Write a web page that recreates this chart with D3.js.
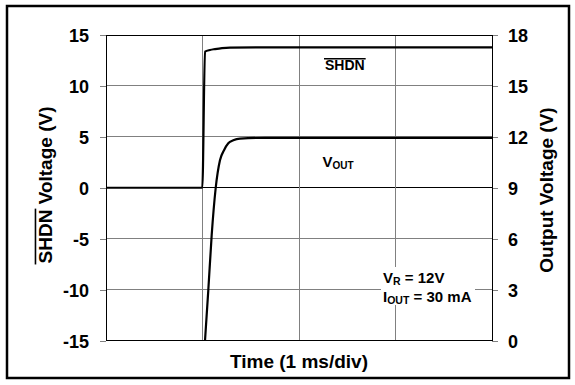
<!DOCTYPE html>
<html>
<head>
<meta charset="utf-8">
<script src="https://cdn.jsdelivr.net/npm/d3@7"></script>
<style>
  html, body { margin: 0; padding: 0; background: #fff; }
  svg { display: block; font-family: "Liberation Sans", Arial, sans-serif; }
</style>
</head>
<body>
<svg id="chart" width="575" height="385"></svg>
<script>
// Time axis (ms) and tick values
const timeDomain = [0, 4];
const timeGridMs = [1, 2, 3];
const shdnTicks = [-15, -10, -5, 0, 5, 10, 15];
const voutTicks = [0, 3, 6, 9, 12, 15, 18];

// SHDN pin waveform (left axis, V)
const shdnTimeMs = [0, 0.998, 1.026, 1.078, 1.130, 1.202, 1.285, 2.0, 3.0, 4.0];
const shdnVolts  = [0, 0,     13.36, 13.53, 13.62, 13.72, 13.77, 13.79, 13.79, 13.79];

// Output voltage waveform (right axis, V)
const voutTimeMs = [1.026, 1.060, 1.095, 1.137, 1.181, 1.223, 1.267, 1.319, 1.389, 1.648, 2.5, 4.0];
const voutVolts  = [0,     2.95,  6.19,  9.0,   10.62, 11.21, 11.62, 11.8,  11.9,  11.94, 11.94, 11.94];

const svg = d3.select("#chart");
const W = 575, H = 385;
const plot = { left: 106, right: 492, top: 35, bottom: 340.5 };
const FONT = "'Liberation Sans', Arial, sans-serif";

const x = d3.scaleLinear().domain(timeDomain).range([plot.left, plot.right]);
const yL = d3.scaleLinear().domain([-15, 15]).range([plot.bottom, plot.top]);
const yR = d3.scaleLinear().domain([0, 18]).range([plot.bottom, plot.top]);

svg.append("rect").attr("width", W).attr("height", H).attr("fill", "#fff");

// outer frame
svg.append("rect")
  .attr("x", 7).attr("y", 6).attr("width", 562).attr("height", 372)
  .attr("fill", "none").attr("stroke", "#000").attr("stroke-width", 2.5);

// grid
const grid = svg.append("g");
grid.selectAll("line.h").data(shdnTicks).join("line")
  .attr("x1", plot.left).attr("x2", plot.right)
  .attr("y1", d => yL(d)).attr("y2", d => yL(d))
  .attr("stroke", d => d === 0 ? "#000" : "#808080").attr("stroke-width", 1)
  .attr("shape-rendering", "crispEdges");
grid.selectAll("line.v").data(timeGridMs).join("line")
  .attr("x1", d => x(d)).attr("x2", d => x(d))
  .attr("y1", plot.top).attr("y2", plot.bottom)
  .attr("stroke", "#808080").attr("stroke-width", 1)
  .attr("shape-rendering", "crispEdges");

// axes
function styleAxis(g) {
  g.select(".domain").remove();
  g.selectAll(".tick line").attr("stroke", "#808080").attr("shape-rendering", "crispEdges");
  g.selectAll(".tick text")
    .attr("font-family", FONT).attr("font-size", 18).attr("font-weight", "bold")
    .attr("fill", "#000").attr("dy", "0.37em");
}
const plain = d => String(d);
svg.append("g").attr("transform", `translate(${plot.left},0)`)
  .call(d3.axisLeft(yL).tickValues(shdnTicks).tickSize(6).tickPadding(11).tickFormat(plain))
  .call(styleAxis);
svg.append("g").attr("transform", `translate(${plot.right},0)`)
  .call(d3.axisRight(yR).tickValues(voutTicks).tickSize(6).tickPadding(10).tickFormat(plain))
  .call(styleAxis);

// plot frame
svg.append("rect")
  .attr("x", plot.left).attr("y", plot.top)
  .attr("width", plot.right - plot.left).attr("height", plot.bottom - plot.top)
  .attr("fill", "none").attr("stroke", "#000").attr("stroke-width", 1)
  .attr("shape-rendering", "crispEdges");

// traces
const shdnLine = d3.line().x(d => x(d[0])).y(d => yL(d[1])).curve(d3.curveMonotoneX);
const voutLine = d3.line().x(d => x(d[0])).y(d => yR(d[1])).curve(d3.curveMonotoneX);
svg.append("path").datum(d3.zip(shdnTimeMs, shdnVolts))
  .attr("d", shdnLine).attr("fill", "none").attr("stroke", "#000")
  .attr("stroke-width", 2.2).attr("stroke-linejoin", "round");
svg.append("path").datum(d3.zip(voutTimeMs, voutVolts))
  .attr("d", voutLine).attr("fill", "none").attr("stroke", "#000")
  .attr("stroke-width", 2.2).attr("stroke-linejoin", "round");

// overline above the first n characters of a text node
function overline(textSel, n, gap, parent) {
  const node = textSel.node();
  const s = node.getStartPositionOfChar(0);
  const e = node.getEndPositionOfChar(n - 1);
  const fs = +textSel.attr("font-size");
  parent.append("line")
    .attr("x1", s.x - 1).attr("x2", e.x + 1)
    .attr("y1", s.y - fs * gap).attr("y2", s.y - fs * gap)
    .attr("stroke", "#000").attr("stroke-width", 1.6);
}

// axis titles
svg.append("text")
  .attr("x", (plot.left + plot.right) / 2).attr("y", 368)
  .attr("text-anchor", "middle").attr("font-family", FONT)
  .attr("font-size", 19).attr("font-weight", "bold")
  .text("Time (1 ms/div)");

const leftTitle = svg.append("g").attr("transform", "translate(52,185) rotate(-90)");
const lt = leftTitle.append("text")
  .attr("x", 0).attr("y", 0).attr("text-anchor", "middle")
  .attr("font-family", FONT).attr("font-size", 19).attr("font-weight", "bold")
  .text("SHDN Voltage (V)");
overline(lt, 4, 0.87, leftTitle);

svg.append("g").attr("transform", "translate(553,190) rotate(-90)")
  .append("text")
  .attr("text-anchor", "middle").attr("font-family", FONT)
  .attr("font-size", 19).attr("font-weight", "bold")
  .text("Output Voltage (V)");

// trace labels
const shdnLbl = svg.append("text")
  .attr("x", 325).attr("y", 70).attr("font-family", FONT)
  .attr("font-size", 14).attr("font-weight", "bold").text("SHDN");
overline(shdnLbl, 4, 0.8, svg);

const voutLbl = svg.append("text")
  .attr("x", 322.5).attr("y", 166.5).attr("font-family", FONT).attr("font-weight", "bold");
voutLbl.append("tspan").attr("font-size", 15).text("V");
voutLbl.append("tspan").attr("font-size", 10).attr("dy", 2).text("OUT");

// test conditions
const cond = svg.append("g");
cond.append("rect").attr("x", 381).attr("y", 267).attr("width", 94).attr("height", 38).attr("fill", "#fff");
const c1 = cond.append("text").attr("x", 383).attr("y", 283)
  .attr("font-family", FONT).attr("font-weight", "bold");
c1.append("tspan").attr("font-size", 15).text("V");
c1.append("tspan").attr("font-size", 10.5).attr("dy", 2).text("R");
c1.append("tspan").attr("font-size", 15).attr("dy", -2).text(" = 12V");
const c2 = cond.append("text").attr("x", 383).attr("y", 302)
  .attr("font-family", FONT).attr("font-weight", "bold");
c2.append("tspan").attr("font-size", 15).text("I");
c2.append("tspan").attr("font-size", 10.5).attr("dy", 2).text("OUT");
c2.append("tspan").attr("font-size", 15).attr("dy", -2).text(" = 30 mA");
</script>
</body>
</html>
